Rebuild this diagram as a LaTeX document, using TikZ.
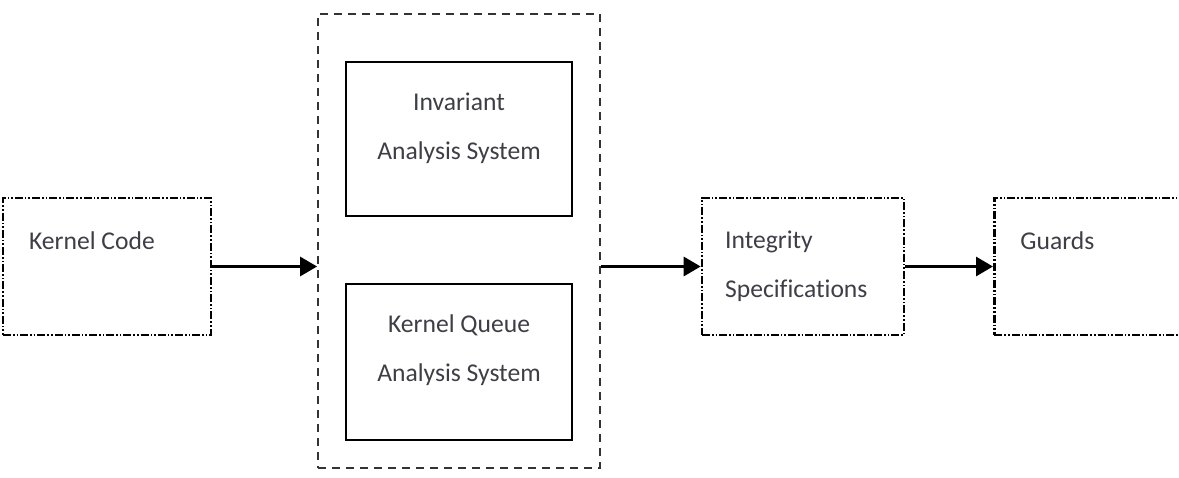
\documentclass[tikz,border=0pt]{standalone}
\usepackage{fontspec}
\setmainfont{Carlito}[Ligatures=NoCommon]
\usetikzlibrary{arrows.meta}
\usetikzlibrary{positioning}
\definecolor{txtgray}{RGB}{62,62,70}

\tikzset{
    dotbox/.style={rectangle, draw=black, line width=1.3pt, dash pattern=on 4pt off 1pt on 0.8pt off 1pt on 0.8pt off 1pt},
    solidbox/.style={rectangle, draw=black, line width=1.2pt},
    groupbox/.style={rectangle, draw=black!80, line width=0.9pt, dash pattern=on 4pt off 3pt},
    lbl/.style={text=txtgray, font=\fontsize{12.8}{24.5}\selectfont, inner sep=0pt},
    flow/.style={-{Triangle[length=8.5pt, width=9.5pt]}, line width=1.5pt}
}

\begin{document}
\begin{tikzpicture}[x=0.5pt, y=-0.5pt]
    \useasboundingbox (0,0) rectangle (1179,477);

    \node [dotbox, minimum width=104pt, minimum height=68.5pt] (kernel) at (107,266.5) {};
    \node [groupbox, minimum width=141pt, minimum height=227pt] (group) at (459,241) {};
    \node [solidbox, minimum width=113pt, minimum height=77pt] (invariant) at (459,139) {};
    \node [solidbox, minimum width=113pt, minimum height=78pt] (queue) at (459,362) {};
    \node [dotbox, minimum width=101pt, minimum height=68.5pt] (integrity) at (803,266.5) {};
    \node [dotbox, minimum width=100pt, minimum height=68.5pt, anchor=west] (guards) at (993,266.5) {};

    \node [lbl, anchor=west] (kerneltext) at ([xshift=13.5pt, yshift=-22pt]kernel.north west) {Kernel Code};
    \node [lbl, align=center] (invtext) at ([yshift=-33.5pt]invariant.north) {Invariant\\Analysis System};
    \node [lbl, align=center] (queuetext) at ([yshift=-33.7pt]queue.north) {Kernel Queue\\Analysis System};
    \node [lbl, align=left, anchor=west] (integtext) at ([xshift=12pt]integrity.west) {Integrity\\Specifications};
    \node [lbl, anchor=west] (guardstext) at ([xshift=13.5pt, yshift=-22pt]guards.north west) {Guards};

    \draw [flow] (kernel.east) -- (kernel.east -| group.west);
    \draw [flow] (group.east |- integrity.west) -- (integrity.west);
    \draw [flow] (integrity.east) -- (guards.west);
\end{tikzpicture}
\end{document}
